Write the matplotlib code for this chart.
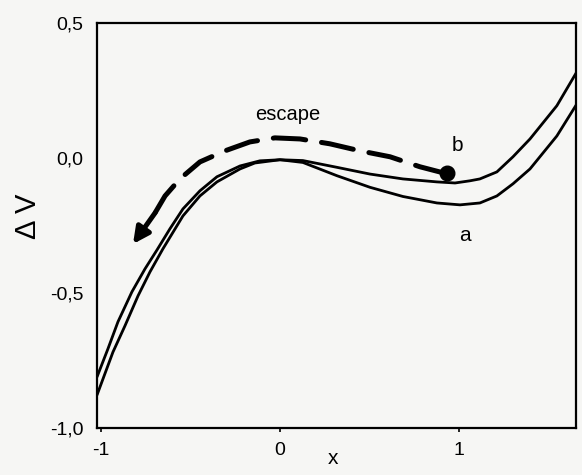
import matplotlib
matplotlib.use('Agg')
import matplotlib.pyplot as plt

# curve a: upper on the left, deeper well on the right
xa = [-1.022, -0.961, -0.905, -0.827, -0.754, -0.687, -0.615, -0.542, -0.447,
      -0.352, -0.223, -0.112, 0.0, 0.128, 0.318, 0.503, 0.687, 0.877, 1.006,
      1.117, 1.212, 1.302, 1.397, 1.547, 1.659]
ya = [-0.811, -0.707, -0.607, -0.496, -0.411, -0.341, -0.263, -0.189, -0.122,
      -0.070, -0.030, -0.011, -0.007, -0.017, -0.066, -0.109, -0.143, -0.167, -0.174,
      -0.167, -0.141, -0.096, -0.041, 0.081, 0.200]

# curve b: lower on the left, shallower well on the right
xb = [-1.022, -0.989, -0.933, -0.866, -0.793, -0.726, -0.654, -0.542, -0.447,
      -0.352, -0.223, -0.140, 0.0, 0.128, 0.318, 0.503, 0.687, 0.877, 0.978,
      1.061, 1.117, 1.212, 1.302, 1.397, 1.547, 1.659]
yb = [-0.878, -0.819, -0.719, -0.622, -0.511, -0.422, -0.337, -0.215, -0.141,
      -0.089, -0.041, -0.019, -0.007, -0.010, -0.035, -0.060, -0.078, -0.089, -0.093,
      -0.085, -0.078, -0.052, 0.004, 0.070, 0.193, 0.319]

# escape path from the ball, heading left
x_esc = [0.933, 0.782, 0.615, 0.447, 0.279, 0.112, -0.028, -0.168, -0.307,
         -0.447, -0.559, -0.642, -0.698]
y_esc = [-0.059, -0.033, 0.004, 0.026, 0.052, 0.070, 0.074, 0.059, 0.026,
         -0.015, -0.078, -0.141, -0.204]
arrow_tip = (-0.821, -0.319)
ball = (0.933, -0.057)

xticks = [-1, 0, 1]
xticklabels = ['-1', '0', '1']
yticks = [0.5, 0.0, -0.5, -1.0]
yticklabels = ['0,5', '0,0', '-0,5', '-1,0']

plt.rcParams['font.family'] = ['Liberation Sans', 'DejaVu Sans']

bg = '#f6f6f4'
fig = plt.figure(figsize=(5.82, 4.75), dpi=100, facecolor=bg)
ax = fig.add_axes([0.1667, 0.099, 0.823, 0.853])
ax.set_facecolor(bg)

ax.plot(xa, ya, color='black', lw=2.0, solid_capstyle='round', solid_joinstyle='round')
ax.plot(xb, yb, color='black', lw=2.0, solid_capstyle='round', solid_joinstyle='round')

ax.plot(x_esc, y_esc, color='black', lw=3.6, dashes=(6.5, 3.2), dash_capstyle='round',
        dash_joinstyle='round')
ax.annotate('', xy=arrow_tip, xytext=(x_esc[-1], y_esc[-1]),
            arrowprops=dict(arrowstyle='-|>', color='black', lw=3.6,
                            mutation_scale=24, shrinkA=0, shrinkB=0))
ax.plot([ball[0]], [ball[1]], 'o', color='black', markersize=10.5)

ax.text(0.045, 0.159, 'escape', fontsize=14.5, ha='center', va='center')
ax.text(0.994, 0.044, 'b', fontsize=15, ha='center', va='center')
ax.text(1.034, -0.289, 'a', fontsize=15, ha='center', va='center')

ax.set_xlim(-1.022, 1.654)
ax.set_ylim(-1.0, 0.5)
ax.set_xticks(xticks)
ax.set_xticklabels(xticklabels)
ax.set_yticks(yticks)
ax.set_yticklabels(yticklabels)
ax.tick_params(axis='x', direction='out', length=3, width=1.2, pad=7, labelsize=14)
ax.tick_params(axis='y', length=0, pad=10, labelsize=14)

for s in ax.spines.values():
    s.set_linewidth(1.6)

fig.text(333 / 582, 1 - 459 / 475, 'x', fontsize=15, ha='center', va='center')
fig.text(28 / 582, 1 - 216 / 475, 'Δ V', fontsize=21, rotation=90, ha='center', va='center')

fig.savefig('out.png', dpi=100, facecolor=bg)
